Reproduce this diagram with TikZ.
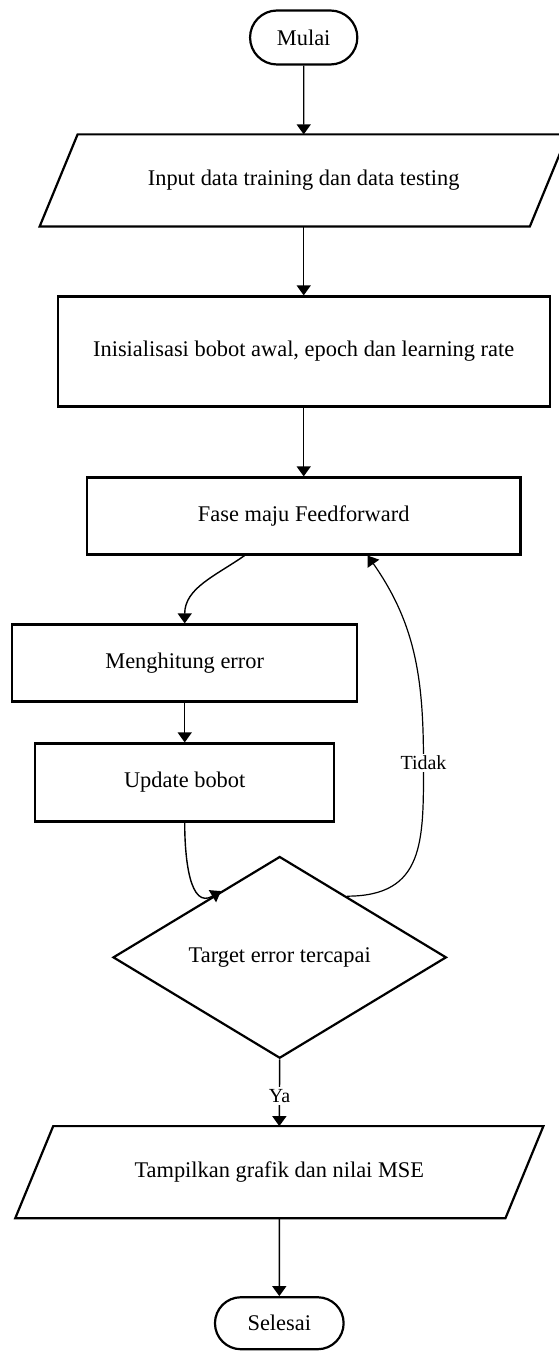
\documentclass[tikz,border=0pt]{standalone}
\usepackage{fontspec}
\setmainfont{Liberation Serif}
\usepackage{tikz}
\usetikzlibrary{arrows.meta, positioning, shapes.geometric, shapes.misc, calc}

\begin{document}
\begin{tikzpicture}[
  x=0.5pt, y=0.5pt,
  box/.style={draw, line width=1.1pt, align=center},
  proc/.style={box, rectangle},
  term/.style={box, rounded rectangle, minimum height=27pt},
  io/.style={rectangle, align=center, outer sep=0.55pt, minimum width=244pt, minimum height=45pt},
  decide/.style={box, diamond, inner sep=0pt, minimum width=166.7pt, minimum height=100.5pt},
  arr/.style={-{Triangle[width=7pt,length=5pt]}, line width=0.7pt},
  lbl/.style={fill=white, inner sep=1pt, font=\fontsize{10}{12}\selectfont},
  font=\fontsize{11.2}{13}\selectfont
]
\useasboundingbox (0,0) rectangle (558,1351);

% Start and input
\node[term, minimum width=60.3pt] (mulai) at (303.7,1313.5) {Mulai};
\node[io, below=34.4pt of mulai] (input) {Input data training dan data testing};

% Initialisation and forward pass
\node[proc, minimum width=246pt, minimum height=55pt, below=34.4pt of input] (init) {Inisialisasi bobot awal, epoch dan learning rate};
\node[proc, minimum width=216.8pt, minimum height=38.5pt, below=34.4pt of init] (fase) {Fase maju Feedforward};

% Error and update, shifted to the left
\node[proc, minimum width=172.4pt, minimum height=38.5pt, below=33.9pt of fase, xshift=-59.5pt] (hitung) {Menghitung error};
\node[proc, minimum width=149.5pt, minimum height=39pt, below=19.9pt of hitung] (update) {Update bobot};

% Decision
\node[decide, below=16.4pt of update, xshift=47.5pt] (cek) {Target error tercapai};

% Output and end
\node[io, below=33.4pt of cek, xshift=-0.2pt] (tampil) {Tampilkan grafik dan nilai MSE};
\node[term, minimum width=71pt, minimum height=26pt, below=38.9pt of tampil] (selesai) {Selesai};

% parallelogram outlines of the two data nodes
\foreach \n in {input,tampil}
  \draw[line width=1.1pt] ([xshift=-9.5pt]\n.south west) -- ([xshift=9.5pt]\n.north west)
    -- ([xshift=9.5pt]\n.north east) -- ([xshift=-9.5pt]\n.south east) -- cycle;

\coordinate (belok) at (423.5,588);

\draw[arr] (mulai) -- (input);
\draw[arr] (input) -- (init);
\draw[arr] (init) -- (fase);
\draw[arr] ([xshift=-29.6pt]fase.south) to[out=-145,in=90] (hitung.north);
\draw[arr] (hitung) -- (update);
\draw[arr] (update.south) to[out=-90,in=211,looseness=1.2] ($(cek.north)!0.35!(cek.west)$);
\draw[arr, line width=0.6pt] ($(cek.north)!0.4!(cek.east)$) to[out=0,in=-90,looseness=1.3] (belok)
  node[lbl] {Tidak} to[out=90,in=-55] ([xshift=32pt]fase.south);
\draw[arr] (cek.south) -- (tampil.north) node[lbl, pos=0.55] {Ya};
\draw[arr] (tampil) -- (selesai);

\end{tikzpicture}
\end{document}
